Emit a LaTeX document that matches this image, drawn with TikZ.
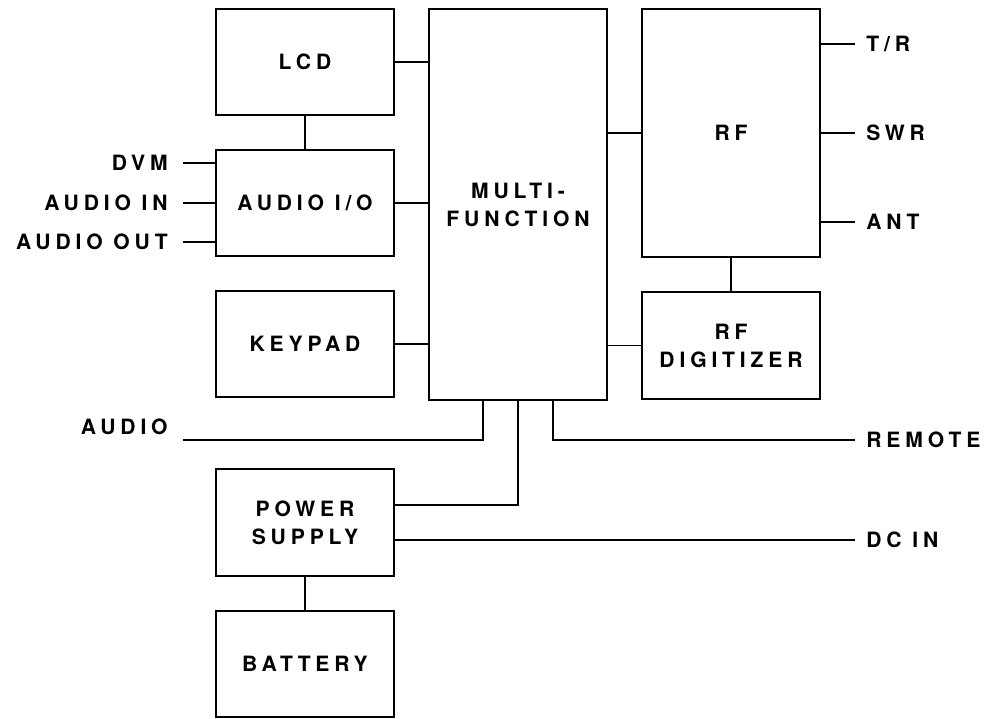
\documentclass[tikz,border=0pt]{standalone}
\usepackage{fontspec}
\setmainfont{TeX Gyre Heros}[LetterSpace=23]
\usepackage{tikz}
\usetikzlibrary{positioning,calc}

\begin{document}
\begin{tikzpicture}[node distance=0.7cm and 0.7cm, font=\fontsize{12}{16}\selectfont\bfseries]
\tikzstyle{blk}=[draw=black, line width=1.6pt, outer sep=0pt, minimum width=3.56cm, minimum height=2.12cm, align=center, inner sep=0pt]
\tikzstyle{sig}=[inner xsep=0.22cm, inner ysep=0pt, text height=8.6pt, text depth=0pt]
\tikzstyle{sigl}=[sig, inner xsep=0.3cm]
\tikzstyle{link}=[line width=0.9pt, draw=black]

\useasboundingbox (0,0) rectangle (19.74,-14.38);

\node[blk] (lcd) at (6.10,-1.24) {LCD};
\node[blk, below=of lcd] (audio) {AUDIO I/O};
\node[blk, below=of audio] (keypad) {KEYPAD};
\node[blk, minimum height=7.82cm, below right=0cm and 0.7cm of lcd.north east] (mf) {MULTI-\\FUNCTION};
\node[blk, minimum height=4.96cm, below right=0cm and 0.7cm of mf.north east] (rf) {RF};
\node[blk, minimum height=2.14cm, below=of rf] (rfdig) {RF\\DIGITIZER};
\node[blk, minimum height=2.14cm, below=1.44cm of keypad] (ps) {POWER\\SUPPLY};
\node[blk, below=of ps] (battery) {BATTERY};

\node[sig, right=0.7cm of rf.north east, yshift=-0.7cm] (tr) {T/R};
\node[sig, right=0.7cm of rf.east] (swr) {SWR};
\node[sig, right=0.7cm of rf.south east, yshift=0.7cm] (ant) {ANT};
\node[sigl, left=0.66cm of audio.west, yshift=0.8cm] (dvm) {DVM};
\node[sigl, left=0.66cm of audio.west] (ain) {AUDIO IN};
\node[sigl, left=0.66cm of audio.west, yshift=-0.78cm] (aout) {AUDIO OUT};

\coordinate (audend) at ($(ain.east)+(0,-4.74)$);
\node[sigl, left=0cm of audend, yshift=0.26cm] (audlbl) {AUDIO};
\node[sig, anchor=west] (remote) at (swr.west |- audend) {REMOTE};
\node[sig, anchor=west] (dcin) at ($(swr.west |- ps.east)+(0,-0.35)$) {DC IN};

\draw[link] (lcd.east) -- (lcd.east -| mf.west);
\draw[link] (lcd) -- (audio);
\draw[link] (audio.east) -- (audio.east -| mf.west);
\draw[link] (keypad.east) -- (keypad.east -| mf.west);
\draw[link] (rf.west) -- (rf.west -| mf.east);
\draw[link] (rfdig.west) -- (rfdig.west -| mf.east);
\draw[link] (rf) -- (rfdig);
\draw[link] (ps) -- (battery);

\draw[link] (tr.west) -- (tr.west -| rf.east);
\draw[link] (swr.west) -- (rf.east);
\draw[link] (ant.west) -- (ant.west -| rf.east);
\draw[link] (dvm.east) -- (dvm.east -| audio.west);
\draw[link] (ain.east) -- (audio.west);
\draw[link] (aout.east) -- (aout.east -| audio.west);

\draw[link] (audend) -| ([xshift=-0.7cm]mf.south);
\draw[link] ([xshift=0.7cm]mf.south) |- (remote.west);
\draw[link] (mf.south) |- ([yshift=0.35cm]ps.east);
\draw[link] (dcin.west) -- (dcin.west -| ps.east);
\end{tikzpicture}
\end{document}
